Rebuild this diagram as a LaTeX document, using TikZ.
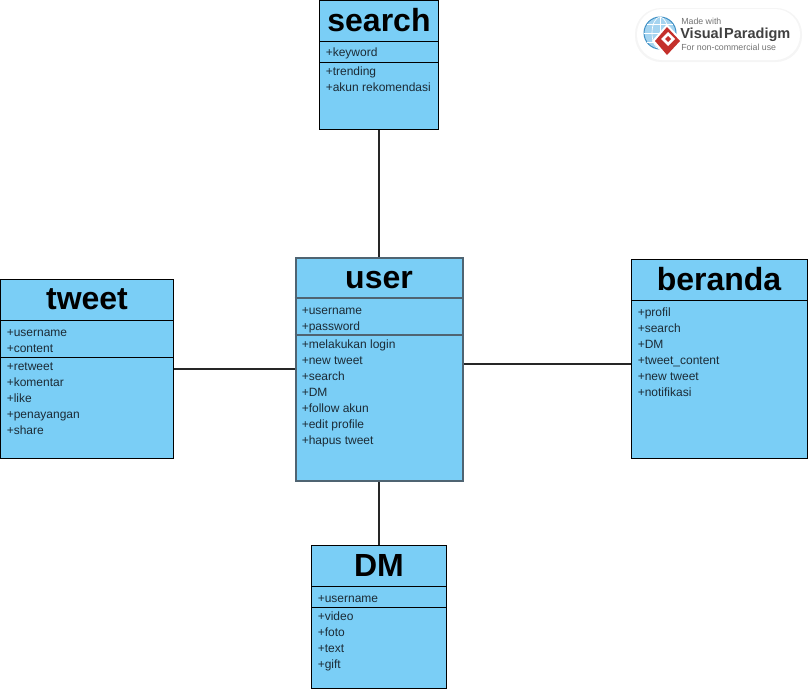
\documentclass[tikz,border=0pt]{standalone}
\usepackage{fontspec}
\setmainfont{Liberation Sans}
\definecolor{classfill}{HTML}{7ACEF6}
\definecolor{attrtext}{HTML}{1C2B36}
\definecolor{linegrey}{HTML}{4F6472}
\definecolor{badgeblue}{HTML}{3E8FC4}
\definecolor{badgesky}{HTML}{A5D4F0}
\definecolor{badgered}{HTML}{C4302B}
\tikzset{
    classbox/.style={draw=black, fill=classfill, line width=0.75pt, inner sep=0pt},
    classname/.style={font=\bfseries\fontsize{24}{24}\selectfont, text=black, inner sep=0pt},
    members/.style={font=\fontsize{9}{12}\selectfont, text=attrtext, align=left, anchor=north west, inner sep=0pt},
    divider/.style={line width=0.75pt},
    link/.style={line width=1.1pt, draw=black!85},
    badgetext/.style={font=\fontsize{6.6}{7}\selectfont, text=black!55, anchor=west, inner sep=0pt}
}
\begin{document}
\begin{tikzpicture}[x=0.75pt, y=-0.75pt]
    \useasboundingbox (0, 0) rectangle (809, 690);

    % connectors first, boxes lie on top
    \coordinate (searchc) at (379, 64.5);
    \coordinate (userc) at (379, 369);
    \coordinate (tweetc) at (86.75, 369);
    \coordinate (berandac) at (719.25, 359);
    \coordinate (dmc) at (379, 616.5);
    \draw [link] (searchc)--(userc);
    \draw [link] (tweetc)--(userc);
    \draw [link] (dmc)--(userc);
    \draw [link] (berandac |- 0, 364)--(userc |- 0, 364);

    \node [classbox, minimum width=89.25pt, minimum height=96.75pt] (search) at (searchc) {};
    \node [classbox, draw=linegrey, line width=1.5pt, minimum width=125.25pt, minimum height=167.25pt] (user) at (userc) {};
    \node [classbox, minimum width=129.75pt, minimum height=134.25pt] (tweet) at (tweetc) {};
    \node [classbox, minimum width=131.75pt, minimum height=149.25pt] (beranda) at (berandac) {};
    \node [classbox, minimum width=101.25pt, minimum height=107.25pt] (dm) at (dmc) {};

    \node [classname] (searchtitle) at (379, 20) {search};
    \node [classname] (usertitle) at (379, 280) {user};
    \node [classname] (tweettitle) at (87, 299) {tweet};
    \node [classname] (berandatitle) at (719, 279) {beranda};
    \node [classname] (dmtitle) at (379, 565) {DM};

    \draw [divider] (search.west |- 0, 41)--(search.east |- 0, 41);
    \draw [divider] (search.west |- 0, 62)--(search.east |- 0, 62);
    \draw [divider, draw=linegrey, line width=1.5pt] (user.west |- 0, 298)--(user.east |- 0, 298);
    \draw [divider, draw=linegrey, line width=1.5pt] (user.west |- 0, 335)--(user.east |- 0, 335);
    \draw [divider] (tweet.west |- 0, 320)--(tweet.east |- 0, 320);
    \draw [divider] (tweet.west |- 0, 357)--(tweet.east |- 0, 357);
    \draw [divider] (beranda.west |- 0, 300)--(beranda.east |- 0, 300);
    \draw [divider] (dm.west |- 0, 586)--(dm.east |- 0, 586);
    \draw [divider] (dm.west |- 0, 607)--(dm.east |- 0, 607);

    \node [members] (searchattr) at (325.5, 48) {+keyword};
    \node [members] (searchop) at (325.5, 66.5) {+trending\\+akun rekomendasi};
    \node [members] (userattr) at (301.5, 307.5) {+username\\+password};
    \node [members] (userop) at (301.5, 339.5) {+melakukan login\\+new tweet\\+search\\+DM\\+follow akun\\+edit profile\\+hapus tweet};
    \node [members] (tweetattr) at (6.5, 329.5) {+username\\+content};
    \node [members] (tweetop) at (6.5, 362) {+retweet\\+komentar\\+like\\+penayangan\\+share};
    \node [members] (berandaop) at (637.5, 307.5) {+profil\\+search\\+DM\\+tweet\_content\\+new tweet\\+notifikasi};
    \node [members] (dmattr) at (317.5, 595.5) {+username};
    \node [members] (dmop) at (317.5, 611.5) {+video\\+foto\\+text\\+gift};

    % badge
    \fill [black!4, rounded corners=19.5pt] (635, 8) rectangle (802, 62);
    \fill [white, rounded corners=18.75pt] (637, 9) rectangle (800, 60);
    \fill [badgesky] (660, 33) circle [radius=16];
    \draw [line width=0.75pt, draw=badgeblue] (660, 33) circle [radius=16];
    \draw [line width=0.5pt, draw=white] (644, 33)--(676, 33) (660, 17)--(660, 49) (647, 24)--(673, 24) (647, 42)--(673, 42);
    \draw [line width=0.5pt, draw=white] (660, 33) ellipse [x radius=8, y radius=16];
    \fill [white] (667, 24)--(683, 41)--(667, 58)--(652, 41)--cycle;
    \fill [badgered] (667, 27)--(680, 41)--(667, 55)--(655, 41)--cycle;
    \fill [white] (668, 32)--(675, 39)--(668, 46)--(661, 39)--cycle;
    \fill [badgered] (668, 36)--(671, 39)--(668, 42)--(665, 39)--cycle;
    \node [badgetext] (badgetop) at (681, 21.5) {Made with};
    \node [font=\bfseries\fontsize{10.9}{12}\selectfont, text=black!75, anchor=west, inner sep=0pt] (badgename) at (680, 35) {Visual\kern1pt Paradigm};
    \node [badgetext] (badgebottom) at (681, 47.5) {For non-commercial use};
\end{tikzpicture}
\end{document}
